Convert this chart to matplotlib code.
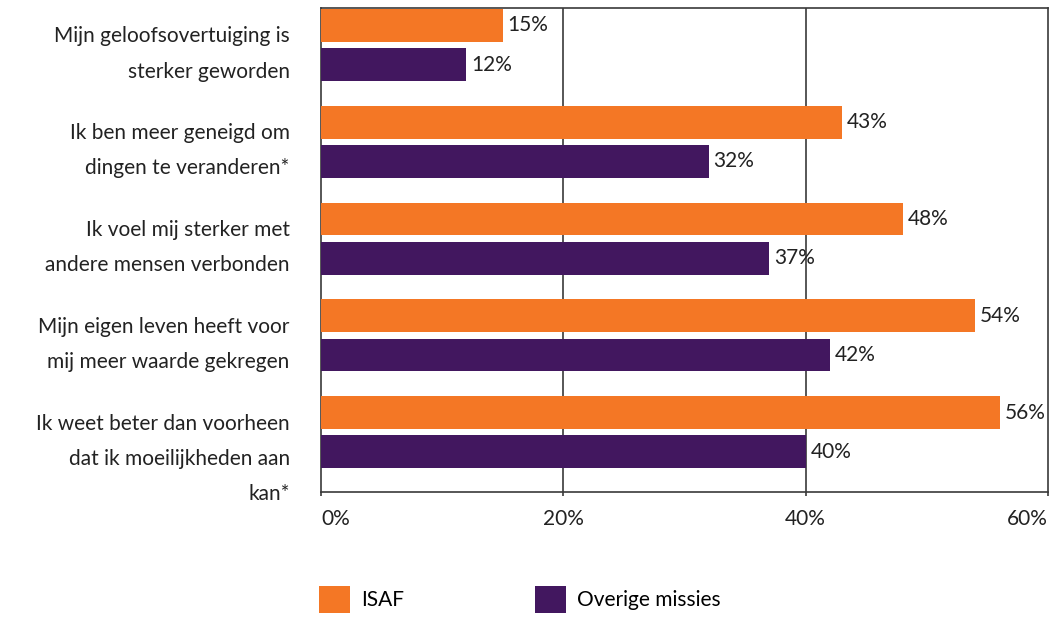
import matplotlib
matplotlib.use("Agg")
from matplotlib import pyplot as plt
from matplotlib.patches import Patch
import numpy as np

categories = [
    "Mijn geloofsovertuiging is\nsterker geworden",
    "Ik ben meer geneigd om\ndingen te veranderen*",
    "Ik voel mij sterker met\nandere mensen verbonden",
    "Mijn eigen leven heeft voor\nmij meer waarde gekregen",
    "Ik weet beter dan voorheen\ndat ik moeilijkheden aan\nkan*",
]
isaf = [15, 43, 48, 54, 56]
overige = [12, 32, 37, 42, 40]
series_names = ["ISAF", "Overige missies"]
xticks = [0, 20, 40, 60]

orange = "#F47725"
purple = "#42175F"
line_col = "#3a3a3a"

plt.rcParams["font.family"] = ["Lato", "DejaVu Sans"]
plt.rcParams["font.size"] = 15

fig = plt.figure(figsize=(10.62, 6.18), dpi=100)
ax = fig.add_axes([321 / 1062, 1 - 492 / 618, (1048 - 321) / 1062, 484 / 618])

pos = np.arange(len(categories))
h = 0.34
ax.barh(pos + 0.18, isaf, height=h, color=orange, label=series_names[0], zorder=3)
ax.barh(pos + 0.585, overige, height=h, color=purple, label=series_names[1], zorder=3)

for i in range(len(categories)):
    ax.text(isaf[i] + 0.4, pos[i] + 0.18, f"{isaf[i]}%", va="center", ha="left",
            color="#222222", zorder=4)
    ax.text(overige[i] + 0.4, pos[i] + 0.585, f"{overige[i]}%", va="center", ha="left",
            color="#222222", zorder=4)
    ax.text(-0.043, pos[i] + 0.19, categories[i], transform=ax.get_yaxis_transform(),
            ha="right", va="top", multialignment="right", linespacing=1.95,
            color="#222222")

ax.set_ylim(len(categories), 0)
ax.set_xlim(0, 60)
ax.set_yticks([])
ax.set_xticks(xticks)
ax.set_xticklabels([f"{v}%" for v in xticks])
ax.tick_params(axis="x", length=3, width=1.2, color=line_col, pad=9, labelcolor="#222222")
labels = ax.get_xticklabels()
labels[0].set_horizontalalignment("left")
labels[-1].set_horizontalalignment("right")

for s in ax.spines.values():
    s.set_color(line_col)
    s.set_linewidth(1.2)
for v in xticks[1:-1]:
    ax.axvline(v, color=line_col, linewidth=1.2, zorder=1)

handles = [Patch(facecolor=orange), Patch(facecolor=purple)]
fig.legend(handles, series_names, loc="upper left", ncol=2, frameon=False,
           bbox_to_anchor=(319 / 1062, 1 - 586 / 618), borderaxespad=0, borderpad=0,
           handlelength=1.5, handleheight=1.6, handletextpad=0.5, columnspacing=6.3,
           fontsize=15)

fig.savefig("out.png", dpi=100)
